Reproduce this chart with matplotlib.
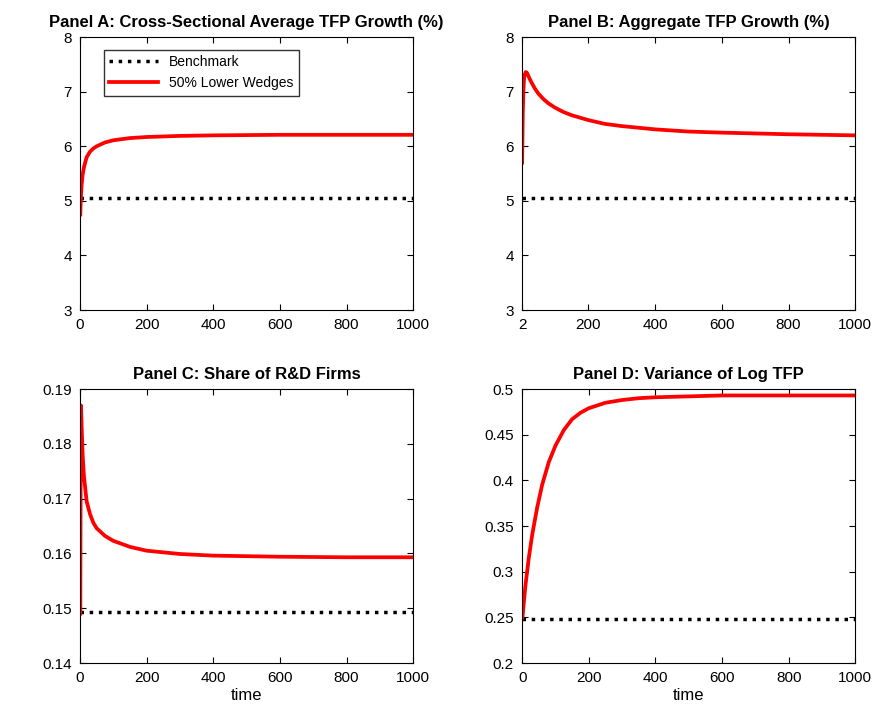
import matplotlib
matplotlib.use("Agg")
from matplotlib import pyplot as plt
from matplotlib.ticker import FormatStrFormatter

plt.rcParams['font.family'] = ['Liberation Sans', 'DejaVu Sans']

# Panel A: cross-sectional average TFP growth (%)
t_a = [1, 2, 3, 5, 8, 12, 20, 30, 40, 50, 75, 100, 150, 200, 300, 400, 600, 800, 1000]
a_low = [4.75, 4.95, 5.1, 5.3, 5.48, 5.62, 5.8, 5.9, 5.96, 6.0, 6.07, 6.11, 6.15, 6.17, 6.19, 6.2, 6.21, 6.21, 6.21]
a_bench = 5.05

# Panel B: aggregate TFP growth (%)
t_b = [2, 4, 6, 8, 10, 13, 16, 20, 25, 30, 40, 50, 65, 80, 100, 125, 150, 200, 250, 300, 400, 500, 600, 800, 1000]
b_low = [5.7, 6.6, 7.05, 7.25, 7.32, 7.36, 7.35, 7.3, 7.23, 7.17, 7.06, 6.97, 6.87, 6.79, 6.71, 6.63, 6.57, 6.48, 6.41, 6.37, 6.31, 6.27, 6.25, 6.22, 6.2]
b_bench = 5.05

# Panel C: share of R&D firms
t_c = [1, 2, 3, 5, 8, 12, 20, 30, 40, 50, 75, 100, 150, 200, 300, 400, 600, 800, 1000]
c_low = [0.149, 0.175, 0.187, 0.183, 0.178, 0.174, 0.1695, 0.1672, 0.1656, 0.1646, 0.1632, 0.1623, 0.1612, 0.1605, 0.1599, 0.1596, 0.1594, 0.1593, 0.1593]
c_bench = 0.1493

# Panel D: variance of log TFP
t_d = [1, 10, 20, 30, 45, 60, 80, 100, 125, 150, 175, 200, 250, 300, 350, 400, 500, 600, 800, 1000]
d_low = [0.25, 0.285, 0.315, 0.34, 0.37, 0.395, 0.42, 0.438, 0.455, 0.467, 0.474, 0.479, 0.485, 0.488, 0.49, 0.491, 0.492, 0.493, 0.493, 0.493]
d_bench = 0.248

fig = plt.figure(figsize=(8.79, 7.07), dpi=100)
positions = [[0.091, 0.5615, 0.379, 0.386], [0.594, 0.5615, 0.379, 0.386],
             [0.091, 0.0622, 0.379, 0.3875], [0.594, 0.0622, 0.379, 0.3875]]
ticks = [0, 200, 400, 600, 800, 1000]
panels = [
    ("Panel A: Cross-Sectional Average TFP Growth (%)", t_a, a_low, a_bench, (0, 1000), (3, 8), ticks, None),
    ("Panel B: Aggregate TFP Growth (%)", t_b, b_low, b_bench, (2, 1000), (3, 8), [2] + ticks[1:], None),
    ("Panel C: Share of R&D Firms", t_c, c_low, c_bench, (0, 1000), (0.14, 0.19), ticks, "time"),
    ("Panel D: Variance of Log TFP", t_d, d_low, d_bench, (0, 1000), (0.2, 0.5), ticks, "time"),
]

for i, (title, t, low, bench, xl, yl, xt, xlab) in enumerate(panels):
    ax = fig.add_axes(positions[i])
    ax.plot([t[0], 1000], [bench, bench], 'k:', linewidth=2.5, label='Benchmark')
    ax.plot(t, low, color='red', linewidth=2.7, label='50% Lower Wedges')
    ax.set_xlim(*xl)
    ax.set_ylim(*yl)
    ax.set_xticks(xt)
    ax.yaxis.set_major_formatter(FormatStrFormatter('%g'))
    ax.tick_params(labelsize=11, direction='in', top=True, right=True, length=4, pad=6)
    ax.set_title(title, fontsize=12, fontweight='bold', pad=7)
    if xlab:
        ax.set_xlabel(xlab, fontsize=12, labelpad=2)
    if i == 0:
        ax.legend(loc='upper left', bbox_to_anchor=(0.05, 0.98), fontsize=10,
                  fancybox=False, edgecolor='black', handlelength=3.5)

fig.savefig('out.png')
